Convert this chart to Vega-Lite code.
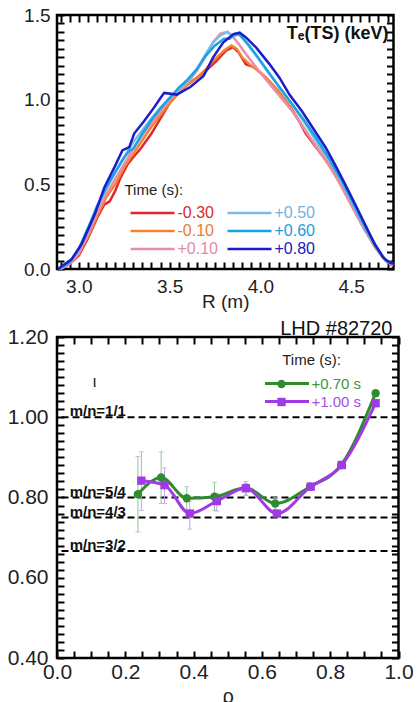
{
  "$schema": "https://vega.github.io/schema/vega-lite/v6.json",
  "background": "white",
  "padding": {"left": 3, "top": 4, "right": 0, "bottom": 0},
  "spacing": 4,
  "columns": 1,
  "config": {
    "view": {"stroke": "black", "strokeWidth": 2.5},
    "font": "Liberation Sans",
    "axis": {"domain": false, "grid": false, "labelColor": "#222", "labelFont": "Liberation Sans", "labelFlush": false, "labelOverlap": false, "labelBound": false, "titleFont": "Liberation Sans", "titleFontWeight": "normal", "titleColor": "#222"},
    "legend": {"padding": 0, "labelFont": "Liberation Sans", "titleFont": "Liberation Sans", "titleFontWeight": "normal", "titleColor": "#222", "labelLimit": 300},
    "title": {"font": "Liberation Sans", "color": "#111"}
  },
  "resolve": {"scale": {"color": "independent", "stroke": "independent", "fill": "independent", "shape": "independent"}, "legend": {"color": "independent", "stroke": "independent", "fill": "independent", "shape": "independent"}},
  "datasets": {
    "te": [
      {"s":"-0.30","R":2.90,"T":0.00},{"s":"-0.30","R":2.95,"T":0.03},{"s":"-0.30","R":3.00,"T":0.08},{"s":"-0.30","R":3.05,"T":0.18},{"s":"-0.30","R":3.10,"T":0.30},{"s":"-0.30","R":3.14,"T":0.38},{"s":"-0.30","R":3.17,"T":0.40},{"s":"-0.30","R":3.20,"T":0.46},{"s":"-0.30","R":3.23,"T":0.54},{"s":"-0.30","R":3.27,"T":0.62},{"s":"-0.30","R":3.30,"T":0.66},{"s":"-0.30","R":3.34,"T":0.71},{"s":"-0.30","R":3.40,"T":0.80},{"s":"-0.30","R":3.45,"T":0.89},{"s":"-0.30","R":3.50,"T":0.98},{"s":"-0.30","R":3.55,"T":1.04},{"s":"-0.30","R":3.60,"T":1.09},{"s":"-0.30","R":3.65,"T":1.13},{"s":"-0.30","R":3.70,"T":1.17},{"s":"-0.30","R":3.76,"T":1.23},{"s":"-0.30","R":3.81,"T":1.29},{"s":"-0.30","R":3.85,"T":1.31},{"s":"-0.30","R":3.88,"T":1.28},{"s":"-0.30","R":3.92,"T":1.21},{"s":"-0.30","R":3.97,"T":1.19},{"s":"-0.30","R":4.03,"T":1.13},{"s":"-0.30","R":4.10,"T":1.05},{"s":"-0.30","R":4.17,"T":0.95},{"s":"-0.30","R":4.22,"T":0.86},{"s":"-0.30","R":4.25,"T":0.80},{"s":"-0.30","R":4.32,"T":0.70},{"s":"-0.30","R":4.39,"T":0.60},{"s":"-0.30","R":4.46,"T":0.47},{"s":"-0.30","R":4.53,"T":0.32},{"s":"-0.30","R":4.60,"T":0.19},{"s":"-0.30","R":4.66,"T":0.09},{"s":"-0.30","R":4.70,"T":0.04},{"s":"-0.30","R":4.73,"T":0.02},
      {"s":"-0.10","R":2.90,"T":0.00},{"s":"-0.10","R":2.95,"T":0.04},{"s":"-0.10","R":3.00,"T":0.10},{"s":"-0.10","R":3.05,"T":0.19},{"s":"-0.10","R":3.10,"T":0.31},{"s":"-0.10","R":3.15,"T":0.42},{"s":"-0.10","R":3.20,"T":0.50},{"s":"-0.10","R":3.25,"T":0.60},{"s":"-0.10","R":3.30,"T":0.68},{"s":"-0.10","R":3.35,"T":0.76},{"s":"-0.10","R":3.40,"T":0.84},{"s":"-0.10","R":3.45,"T":0.91},{"s":"-0.10","R":3.50,"T":0.98},{"s":"-0.10","R":3.55,"T":1.04},{"s":"-0.10","R":3.60,"T":1.09},{"s":"-0.10","R":3.65,"T":1.13},{"s":"-0.10","R":3.70,"T":1.18},{"s":"-0.10","R":3.75,"T":1.24},{"s":"-0.10","R":3.80,"T":1.29},{"s":"-0.10","R":3.84,"T":1.32},{"s":"-0.10","R":3.87,"T":1.30},{"s":"-0.10","R":3.90,"T":1.25},{"s":"-0.10","R":3.95,"T":1.20},{"s":"-0.10","R":4.00,"T":1.16},{"s":"-0.10","R":4.05,"T":1.11},{"s":"-0.10","R":4.10,"T":1.05},{"s":"-0.10","R":4.15,"T":0.98},{"s":"-0.10","R":4.20,"T":0.90},{"s":"-0.10","R":4.27,"T":0.78},{"s":"-0.10","R":4.35,"T":0.66},{"s":"-0.10","R":4.42,"T":0.54},{"s":"-0.10","R":4.50,"T":0.38},{"s":"-0.10","R":4.57,"T":0.24},{"s":"-0.10","R":4.63,"T":0.13},{"s":"-0.10","R":4.68,"T":0.06},{"s":"-0.10","R":4.73,"T":0.02},
      {"s":"+0.10","R":2.90,"T":0.00},{"s":"+0.10","R":2.95,"T":0.03},{"s":"+0.10","R":3.00,"T":0.09},{"s":"+0.10","R":3.05,"T":0.20},{"s":"+0.10","R":3.10,"T":0.33},{"s":"+0.10","R":3.15,"T":0.44},{"s":"+0.10","R":3.20,"T":0.53},{"s":"+0.10","R":3.25,"T":0.62},{"s":"+0.10","R":3.30,"T":0.71},{"s":"+0.10","R":3.35,"T":0.79},{"s":"+0.10","R":3.40,"T":0.86},{"s":"+0.10","R":3.45,"T":0.93},{"s":"+0.10","R":3.50,"T":1.00},{"s":"+0.10","R":3.55,"T":1.05},{"s":"+0.10","R":3.60,"T":1.10},{"s":"+0.10","R":3.65,"T":1.17},{"s":"+0.10","R":3.70,"T":1.26},{"s":"+0.10","R":3.74,"T":1.34},{"s":"+0.10","R":3.78,"T":1.39},{"s":"+0.10","R":3.82,"T":1.40},{"s":"+0.10","R":3.85,"T":1.37},{"s":"+0.10","R":3.88,"T":1.33},{"s":"+0.10","R":3.92,"T":1.27},{"s":"+0.10","R":3.97,"T":1.20},{"s":"+0.10","R":4.03,"T":1.12},{"s":"+0.10","R":4.10,"T":1.03},{"s":"+0.10","R":4.17,"T":0.94},{"s":"+0.10","R":4.24,"T":0.83},{"s":"+0.10","R":4.31,"T":0.72},{"s":"+0.10","R":4.38,"T":0.61},{"s":"+0.10","R":4.45,"T":0.48},{"s":"+0.10","R":4.52,"T":0.34},{"s":"+0.10","R":4.58,"T":0.22},{"s":"+0.10","R":4.64,"T":0.12},{"s":"+0.10","R":4.69,"T":0.05},{"s":"+0.10","R":4.73,"T":0.02},
      {"s":"+0.50","R":2.89,"T":0.00},{"s":"+0.50","R":2.95,"T":0.04},{"s":"+0.50","R":3.00,"T":0.11},{"s":"+0.50","R":3.05,"T":0.22},{"s":"+0.50","R":3.10,"T":0.36},{"s":"+0.50","R":3.15,"T":0.47},{"s":"+0.50","R":3.20,"T":0.57},{"s":"+0.50","R":3.25,"T":0.66},{"s":"+0.50","R":3.30,"T":0.75},{"s":"+0.50","R":3.35,"T":0.82},{"s":"+0.50","R":3.40,"T":0.89},{"s":"+0.50","R":3.45,"T":0.95},{"s":"+0.50","R":3.50,"T":1.01},{"s":"+0.50","R":3.55,"T":1.06},{"s":"+0.50","R":3.60,"T":1.11},{"s":"+0.50","R":3.65,"T":1.18},{"s":"+0.50","R":3.70,"T":1.27},{"s":"+0.50","R":3.74,"T":1.34},{"s":"+0.50","R":3.78,"T":1.38},{"s":"+0.50","R":3.82,"T":1.40},{"s":"+0.50","R":3.85,"T":1.37},{"s":"+0.50","R":3.88,"T":1.39},{"s":"+0.50","R":3.92,"T":1.34},{"s":"+0.50","R":3.97,"T":1.27},{"s":"+0.50","R":4.03,"T":1.18},{"s":"+0.50","R":4.10,"T":1.08},{"s":"+0.50","R":4.17,"T":0.98},{"s":"+0.50","R":4.24,"T":0.87},{"s":"+0.50","R":4.31,"T":0.75},{"s":"+0.50","R":4.38,"T":0.64},{"s":"+0.50","R":4.45,"T":0.51},{"s":"+0.50","R":4.52,"T":0.36},{"s":"+0.50","R":4.58,"T":0.23},{"s":"+0.50","R":4.64,"T":0.12},{"s":"+0.50","R":4.69,"T":0.05},{"s":"+0.50","R":4.73,"T":0.03},
      {"s":"+0.60","R":2.89,"T":0.00},{"s":"+0.60","R":2.95,"T":0.04},{"s":"+0.60","R":3.00,"T":0.12},{"s":"+0.60","R":3.05,"T":0.24},{"s":"+0.60","R":3.10,"T":0.37},{"s":"+0.60","R":3.15,"T":0.48},{"s":"+0.60","R":3.20,"T":0.57},{"s":"+0.60","R":3.25,"T":0.66},{"s":"+0.60","R":3.28,"T":0.70},{"s":"+0.60","R":3.30,"T":0.71},{"s":"+0.60","R":3.35,"T":0.80},{"s":"+0.60","R":3.40,"T":0.88},{"s":"+0.60","R":3.45,"T":0.95},{"s":"+0.60","R":3.50,"T":1.01},{"s":"+0.60","R":3.55,"T":1.07},{"s":"+0.60","R":3.60,"T":1.12},{"s":"+0.60","R":3.65,"T":1.18},{"s":"+0.60","R":3.70,"T":1.26},{"s":"+0.60","R":3.75,"T":1.32},{"s":"+0.60","R":3.80,"T":1.36},{"s":"+0.60","R":3.83,"T":1.36},{"s":"+0.60","R":3.86,"T":1.39},{"s":"+0.60","R":3.89,"T":1.38},{"s":"+0.60","R":3.93,"T":1.33},{"s":"+0.60","R":3.98,"T":1.26},{"s":"+0.60","R":4.04,"T":1.17},{"s":"+0.60","R":4.10,"T":1.08},{"s":"+0.60","R":4.17,"T":0.98},{"s":"+0.60","R":4.24,"T":0.88},{"s":"+0.60","R":4.31,"T":0.77},{"s":"+0.60","R":4.38,"T":0.65},{"s":"+0.60","R":4.45,"T":0.52},{"s":"+0.60","R":4.52,"T":0.37},{"s":"+0.60","R":4.58,"T":0.24},{"s":"+0.60","R":4.64,"T":0.13},{"s":"+0.60","R":4.69,"T":0.05},{"s":"+0.60","R":4.73,"T":0.03},
      {"s":"+0.80","R":2.885,"T":0.00},{"s":"+0.80","R":2.96,"T":0.057},{"s":"+0.80","R":3.015,"T":0.146},{"s":"+0.80","R":3.087,"T":0.32},{"s":"+0.80","R":3.14,"T":0.48},{"s":"+0.80","R":3.196,"T":0.60},{"s":"+0.80","R":3.24,"T":0.70},{"s":"+0.80","R":3.278,"T":0.72},{"s":"+0.80","R":3.305,"T":0.80},{"s":"+0.80","R":3.36,"T":0.874},{"s":"+0.80","R":3.414,"T":0.953},{"s":"+0.80","R":3.45,"T":1.01},{"s":"+0.80","R":3.47,"T":1.04},{"s":"+0.80","R":3.54,"T":1.03},{"s":"+0.80","R":3.614,"T":1.075},{"s":"+0.80","R":3.687,"T":1.14},{"s":"+0.80","R":3.74,"T":1.25},{"s":"+0.80","R":3.795,"T":1.337},{"s":"+0.80","R":3.85,"T":1.386},{"s":"+0.80","R":3.886,"T":1.396},{"s":"+0.80","R":3.922,"T":1.366},{"s":"+0.80","R":3.977,"T":1.307},{"s":"+0.80","R":4.05,"T":1.21},{"s":"+0.80","R":4.105,"T":1.13},{"s":"+0.80","R":4.16,"T":1.03},{"s":"+0.80","R":4.23,"T":0.93},{"s":"+0.80","R":4.30,"T":0.815},{"s":"+0.80","R":4.36,"T":0.716},{"s":"+0.80","R":4.41,"T":0.618},{"s":"+0.80","R":4.467,"T":0.50},{"s":"+0.80","R":4.522,"T":0.382},{"s":"+0.80","R":4.576,"T":0.264},{"s":"+0.80","R":4.63,"T":0.146},{"s":"+0.80","R":4.677,"T":0.067},{"s":"+0.80","R":4.713,"T":0.037},{"s":"+0.80","R":4.733,"T":0.03}
    ],
    "iota": [
      {"s":"+0.70 s","p":"+0.70 s","rho":0.237,"iota":0.808},{"s":"+0.70 s","p":"+0.70 s","rho":0.305,"iota":0.850},{"s":"+0.70 s","p":"+0.70 s","rho":0.380,"iota":0.798},{"s":"+0.70 s","p":"+0.70 s","rho":0.461,"iota":0.802},{"s":"+0.70 s","p":"+0.70 s","rho":0.553,"iota":0.824},{"s":"+0.70 s","p":"+0.70 s","rho":0.639,"iota":0.785},{"s":"+0.70 s","p":"+0.70 s","rho":0.741,"iota":0.827},{"s":"+0.70 s","p":"+0.70 s","rho":0.832,"iota":0.881},{"s":"+0.70 s","p":"+0.70 s","rho":0.933,"iota":1.060},
      {"s":"+1.00 s","p":"+1.00 s","rho":0.247,"iota":0.842},{"s":"+1.00 s","p":"+1.00 s","rho":0.315,"iota":0.831},{"s":"+1.00 s","p":"+1.00 s","rho":0.389,"iota":0.760},{"s":"+1.00 s","p":"+1.00 s","rho":0.468,"iota":0.791},{"s":"+1.00 s","p":"+1.00 s","rho":0.553,"iota":0.823},{"s":"+1.00 s","p":"+1.00 s","rho":0.644,"iota":0.760},{"s":"+1.00 s","p":"+1.00 s","rho":0.743,"iota":0.827},{"s":"+1.00 s","p":"+1.00 s","rho":0.834,"iota":0.881},{"s":"+1.00 s","p":"+1.00 s","rho":0.933,"iota":1.035}
    ],
    "err": [
      {"e":"+0.70 s","rho":0.237,"lo":0.714,"hi":0.902},{"e":"+0.70 s","rho":0.305,"lo":0.785,"hi":0.914},{"e":"+0.70 s","rho":0.380,"lo":0.768,"hi":0.827},{"e":"+0.70 s","rho":0.461,"lo":0.768,"hi":0.838},{"e":"+0.70 s","rho":0.553,"lo":0.806,"hi":0.840},{"e":"+0.70 s","rho":0.639,"lo":0.770,"hi":0.800},
      {"e":"+1.00 s","rho":0.247,"lo":0.768,"hi":0.914},{"e":"+1.00 s","rho":0.315,"lo":0.785,"hi":0.874},{"e":"+1.00 s","rho":0.389,"lo":0.721,"hi":0.791},{"e":"+1.00 s","rho":0.468,"lo":0.766,"hi":0.810},{"e":"+1.00 s","rho":0.553,"lo":0.805,"hi":0.835}
    ],
    "res": [
      {"iota":1.0,"label":"m/n=1/1"},{"iota":0.8,"label":"m/n=5/4"},{"iota":0.75,"label":"m/n=4/3"},{"iota":0.6667,"label":"m/n=3/2"}
    ]
  },
  "concat": [
    {
      "width": 336.5,
      "height": 254,
      "title": {"text": "Tₑ(TS) (keV)", "anchor": "end", "frame": "group", "offset": -37, "dx": -5, "fontSize": 18, "fontWeight": "bold"},
      "data": {"name": "te"},
      "layer": [
        {
          "mark": {"type": "line", "strokeWidth": 2.5},
          "encoding": {
            "x": {"field": "R", "type": "quantitative", "scale": {"domain": [2.88, 4.733], "nice": false, "zero": false},
                  "axis": {"orient": "bottom", "values": [2.9,2.95,3,3.05,3.1,3.15,3.2,3.25,3.3,3.35,3.4,3.45,3.5,3.55,3.6,3.65,3.7,3.75,3.8,3.85,3.9,3.95,4,4.05,4.1,4.15,4.2,4.25,4.3,4.35,4.4,4.45,4.5,4.55,4.6,4.65,4.7],
                           "labelExpr": "indexof([3, 3.5, 4, 4.5], datum.value) >= 0 ? format(datum.value, '.1f') : ''",
                           "labelFontSize": 19, "labelPadding": 15, "ticks": true, "tickSize": -7, "tickColor": "#000", "tickWidth": 2, "title": "R (m)", "titleFontSize": 19, "titlePadding": -4}},
            "y": {"field": "T", "type": "quantitative", "scale": {"domain": [0, 1.5], "nice": false},
                  "axis": {"orient": "left", "values": [0,0.05,0.1,0.15,0.2,0.25,0.3,0.35,0.4,0.45,0.5,0.55,0.6,0.65,0.7,0.75,0.8,0.85,0.9,0.95,1,1.05,1.1,1.15,1.2,1.25,1.3,1.35,1.4,1.45,1.5],
                           "labelExpr": "indexof([0, 0.5, 1, 1.5], datum.value) >= 0 ? format(datum.value, '.1f') : ''",
                           "labelFontSize": 19, "labelPadding": 14, "ticks": true, "tickSize": -7, "tickColor": "#000", "tickWidth": 2, "minExtent": 45, "title": null}},
            "color": {"field": "s", "type": "nominal",
                      "scale": {"domain": ["-0.30", "-0.10", "+0.10", "+0.50", "+0.60", "+0.80"], "range": ["#e3262b", "#f28230", "#e88fa8", "#7bbcea", "#1aa3e4", "#1c1cc8"]},
                      "legend": {"orient": "none", "legendX": 67.5, "legendY": 168, "columns": 2, "columnPadding": 3, "rowPadding": 2,
                                 "symbolType": "M-4.4,0H4.4", "symbolSize": 100, "symbolStrokeWidth": 2.5, "symbolOffset": 20,
                                 "labelFontSize": 16, "labelOffset": 17,
                                 "labelColor": {"expr": "datum.value == '-0.30' ? '#d92a2a' : datum.value == '-0.10' ? '#ee7a2c' : datum.value == '+0.10' ? '#e58aa5' : datum.value == '+0.50' ? '#6fb3e6' : datum.value == '+0.60' ? '#1a9ede' : '#2020b8'"},
                                 "title": "Time (s):", "titleFontSize": 15, "titlePadding": 7}}
          }
        },
        {
          "mark": {"type": "point", "opacity": 0},
          "encoding": {
            "x": {"field": "R", "type": "quantitative", "axis": {"orient": "top", "values": [2.9,2.95,3,3.05,3.1,3.15,3.2,3.25,3.3,3.35,3.4,3.45,3.5,3.55,3.6,3.65,3.7,3.75,3.8,3.85,3.9,3.95,4,4.05,4.1,4.15,4.2,4.25,4.3,4.35,4.4,4.45,4.5,4.55,4.6,4.65,4.7], "labels": false, "ticks": true, "tickSize": -7, "tickColor": "#000", "tickWidth": 2, "title": null}},
            "y": {"field": "T", "type": "quantitative", "axis": {"orient": "right", "values": [0,0.05,0.1,0.15,0.2,0.25,0.3,0.35,0.4,0.45,0.5,0.55,0.6,0.65,0.7,0.75,0.8,0.85,0.9,0.95,1,1.05,1.1,1.15,1.2,1.25,1.3,1.35,1.4,1.45,1.5], "labels": false, "ticks": true, "tickSize": -7, "tickColor": "#000", "tickWidth": 2, "title": null}}
          }
        }
      ],
      "resolve": {"axis": {"x": "independent", "y": "independent"}}
    },
    {
      "width": 341.5,
      "height": 321,
      "title": {"text": "LHD #82720", "anchor": "end", "frame": "group", "offset": -13, "dx": -6, "fontSize": 20, "fontWeight": "normal"},
      "layer": [
        {
          "data": {"name": "res"},
          "mark": {"type": "rule", "strokeDash": [7, 4], "strokeWidth": 2, "color": "black"},
          "encoding": {"y": {"field": "iota", "type": "quantitative", "axis": null}}
        },
        {
          "data": {"name": "res"},
          "mark": {"type": "text", "align": "left", "baseline": "alphabetic", "dy": -1, "fontSize": 15, "fontWeight": "bold", "color": "#111", "font": "Liberation Sans"},
          "encoding": {"x": {"datum": 0.037, "type": "quantitative", "axis": null}, "y": {"field": "iota", "type": "quantitative", "axis": null}, "text": {"field": "label"}}
        },
        {
          "data": {"name": "err"},
          "mark": {"type": "errorbar", "ticks": true, "thickness": 1},
          "encoding": {
            "x": {"field": "rho", "type": "quantitative", "axis": null},
            "y": {"field": "lo", "type": "quantitative", "axis": null},
            "y2": {"field": "hi"},
            "color": {"field": "e", "type": "nominal", "scale": {"domain": ["+0.70 s", "+1.00 s"], "range": ["#8fc48f", "#c99aee"]}, "legend": null}
          }
        },
        {
          "data": {"name": "iota"},
          "mark": {"type": "line", "strokeWidth": 3, "interpolate": "monotone"},
          "encoding": {
            "x": {"field": "rho", "type": "quantitative", "axis": null},
            "y": {"field": "iota", "type": "quantitative", "axis": null},
            "stroke": {"field": "s", "type": "nominal", "scale": {"range": ["#2e8b2e", "#a03ae4"]},
                       "legend": {"orient": "none", "legendX": 205.5, "legendY": 16, "rowPadding": 2,
                                  "symbolType": "M-4.4,0H4.4", "symbolSize": 100, "symbolStrokeWidth": 3, "symbolOffset": 17,
                                  "labelFontSize": 15, "labelOffset": 17,
                                  "labelColor": {"expr": "datum.value == '+0.70 s' ? '#3c963c' : '#a64fe0'"},
                                  "title": "Time (s):", "titleFontSize": 15, "titlePadding": 8, "titleAnchor": "middle"}}
          }
        },
        {
          "data": {"name": "iota"},
          "mark": {"type": "point", "filled": true, "opacity": 1, "size": 70},
          "encoding": {
            "x": {"field": "rho", "type": "quantitative", "axis": null},
            "y": {"field": "iota", "type": "quantitative", "axis": null},
            "fill": {"field": "p", "type": "nominal", "scale": {"range": ["#2e8b2e", "#a03ae4"]}, "legend": {"orient": "none", "legendX": 217, "legendY": 39.5, "rowPadding": 2, "symbolSize": 70, "labelFontSize": 15, "labelOpacity": 0, "title": null, "symbolStrokeWidth": 0}},
            "shape": {"field": "p", "type": "nominal", "scale": {"range": ["circle", "square"]}, "legend": {"orient": "none", "legendX": 217, "legendY": 39.5, "rowPadding": 2, "symbolSize": 70, "labelFontSize": 15, "labelOpacity": 0, "title": null, "symbolStrokeWidth": 0}}
          }
        },
        {
          "data": {"name": "iota"},
          "mark": {"type": "point", "opacity": 0},
          "encoding": {
            "x": {"field": "rho", "type": "quantitative", "scale": {"domain": [0, 1], "nice": false},
                  "axis": {"orient": "bottom", "values": [0,0.05,0.1,0.15,0.2,0.25,0.3,0.35,0.4,0.45,0.5,0.55,0.6,0.65,0.7,0.75,0.8,0.85,0.9,0.95,1],
                           "labelExpr": "indexof([0, 0.2, 0.4, 0.6, 0.8, 1], datum.value) >= 0 ? format(datum.value, '.1f') : ''",
                           "labelFontSize": 21, "labelPadding": 10, "ticks": true, "tickSize": -7, "tickColor": "#000", "tickWidth": 2, "title": "ρ", "titleFontSize": 20, "titlePadding": 4}},
            "y": {"field": "iota", "type": "quantitative", "scale": {"domain": [0.4, 1.2], "nice": false, "zero": false},
                  "axis": {"orient": "left", "values": [0.4,0.42,0.44,0.46,0.48,0.5,0.52,0.54,0.56,0.58,0.6,0.62,0.64,0.66,0.68,0.7,0.72,0.74,0.76,0.78,0.8,0.82,0.84,0.86,0.88,0.9,0.92,0.94,0.96,0.98,1,1.02,1.04,1.06,1.08,1.1,1.12,1.14,1.16,1.18,1.2],
                           "labelExpr": "indexof([0.4, 0.6, 0.8, 1, 1.2], datum.value) >= 0 ? format(datum.value, '.2f') : ''",
                           "labelFontSize": 21, "labelPadding": 16, "ticks": true, "tickSize": -7, "tickColor": "#000", "tickWidth": 2, "minExtent": 52.5,
                           "title": "ι", "titleAngle": 0, "titleX": 37, "titleY": 44, "titleFontSize": 16, "titleBaseline": "middle", "titleAlign": "center"}}
          }
        },
        {
          "data": {"name": "iota"},
          "mark": {"type": "point", "opacity": 0},
          "encoding": {
            "x": {"field": "rho", "type": "quantitative", "axis": {"orient": "top", "values": [0,0.05,0.1,0.15,0.2,0.25,0.3,0.35,0.4,0.45,0.5,0.55,0.6,0.65,0.7,0.75,0.8,0.85,0.9,0.95,1], "labels": false, "ticks": true, "tickSize": -7, "tickColor": "#000", "tickWidth": 2, "title": null}},
            "y": {"field": "iota", "type": "quantitative", "axis": {"orient": "right", "values": [0.4,0.42,0.44,0.46,0.48,0.5,0.52,0.54,0.56,0.58,0.6,0.62,0.64,0.66,0.68,0.7,0.72,0.74,0.76,0.78,0.8,0.82,0.84,0.86,0.88,0.9,0.92,0.94,0.96,0.98,1,1.02,1.04,1.06,1.08,1.1,1.12,1.14,1.16,1.18,1.2], "labels": false, "ticks": true, "tickSize": -7, "tickColor": "#000", "tickWidth": 2, "title": null}}
          }
        }
      ],
      "resolve": {"axis": {"x": "independent", "y": "independent"}, "legend": {"stroke": "independent", "fill": "independent", "shape": "independent"}}
    }
  ]
}
